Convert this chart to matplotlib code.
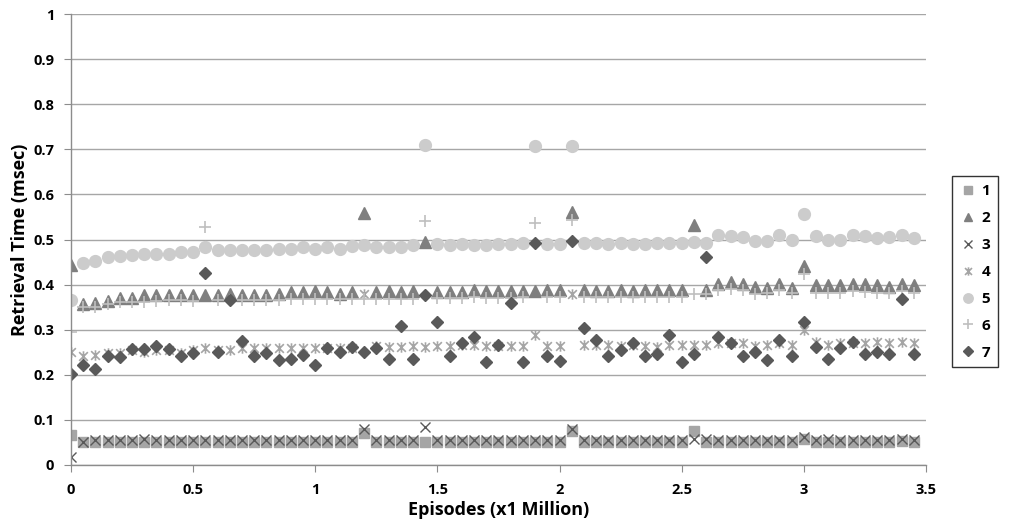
import matplotlib
matplotlib.use("Agg")
import matplotlib.pyplot as plt
from matplotlib.path import Path

plt.rcParams['font.family'] = ['Open Sans', 'DejaVu Sans']

# ── data ────────────────────────────────────────────────────────────────
EPISODES = [round(0.05 * i, 2) for i in range(70)]

S1 = [0.067, 0.050, 0.050, 0.052, 0.050, 0.050, 0.050, 0.050, 0.050, 0.050,
      0.050, 0.050, 0.050, 0.050, 0.050, 0.050, 0.050, 0.050, 0.050, 0.050,
      0.050, 0.050, 0.050, 0.050, 0.072, 0.050, 0.050, 0.050, 0.050, 0.050,
      0.052, 0.052, 0.052, 0.050, 0.050, 0.052, 0.050, 0.052, 0.052, 0.052,
      0.052, 0.075, 0.052, 0.052, 0.052, 0.050, 0.050, 0.052, 0.052, 0.050,
      0.052, 0.075, 0.052, 0.052, 0.052, 0.052, 0.052, 0.052, 0.052, 0.052,
      0.058, 0.052, 0.052, 0.052, 0.052, 0.052, 0.052, 0.052, 0.054, 0.052]

S2 = [0.443, 0.357, 0.360, 0.364, 0.371, 0.371, 0.377, 0.378, 0.378, 0.378,
      0.378, 0.378, 0.378, 0.380, 0.378, 0.378, 0.378, 0.380, 0.384, 0.384,
      0.385, 0.384, 0.380, 0.384, 0.558, 0.384, 0.385, 0.384, 0.385, 0.495,
      0.384, 0.384, 0.384, 0.388, 0.385, 0.385, 0.385, 0.385, 0.385, 0.389,
      0.389, 0.560, 0.388, 0.385, 0.385, 0.388, 0.385, 0.389, 0.389, 0.388,
      0.389, 0.532, 0.389, 0.402, 0.406, 0.402, 0.395, 0.392, 0.402, 0.392,
      0.441, 0.400, 0.399, 0.399, 0.402, 0.402, 0.400, 0.395, 0.402, 0.400]

S3 = [0.018, 0.052, 0.055, 0.055, 0.055, 0.055, 0.057, 0.055, 0.055, 0.055,
      0.055, 0.055, 0.055, 0.055, 0.055, 0.055, 0.055, 0.055, 0.055, 0.055,
      0.055, 0.055, 0.055, 0.055, 0.080, 0.055, 0.055, 0.055, 0.055, 0.084,
      0.055, 0.055, 0.055, 0.055, 0.055, 0.055, 0.055, 0.055, 0.055, 0.055,
      0.055, 0.080, 0.055, 0.055, 0.055, 0.055, 0.055, 0.055, 0.055, 0.055,
      0.055, 0.057, 0.057, 0.055, 0.055, 0.055, 0.055, 0.055, 0.055, 0.055,
      0.062, 0.055, 0.057, 0.055, 0.055, 0.055, 0.055, 0.055, 0.058, 0.055]

S4 = [0.251, 0.242, 0.245, 0.249, 0.249, 0.255, 0.251, 0.255, 0.255, 0.249,
      0.255, 0.259, 0.255, 0.255, 0.259, 0.259, 0.259, 0.259, 0.259, 0.259,
      0.259, 0.259, 0.259, 0.259, 0.379, 0.264, 0.262, 0.262, 0.264, 0.262,
      0.264, 0.264, 0.266, 0.266, 0.264, 0.264, 0.264, 0.264, 0.288, 0.264,
      0.264, 0.379, 0.266, 0.266, 0.266, 0.264, 0.266, 0.264, 0.262, 0.266,
      0.266, 0.266, 0.266, 0.270, 0.271, 0.270, 0.264, 0.266, 0.270, 0.266,
      0.299, 0.273, 0.266, 0.271, 0.271, 0.271, 0.273, 0.271, 0.273, 0.271]

S5 = [0.366, 0.449, 0.452, 0.462, 0.463, 0.466, 0.467, 0.467, 0.467, 0.472,
      0.473, 0.484, 0.477, 0.477, 0.477, 0.477, 0.477, 0.480, 0.480, 0.484,
      0.480, 0.484, 0.480, 0.485, 0.488, 0.484, 0.484, 0.484, 0.488, 0.709,
      0.489, 0.488, 0.489, 0.488, 0.488, 0.489, 0.489, 0.493, 0.707, 0.489,
      0.489, 0.707, 0.493, 0.493, 0.491, 0.493, 0.491, 0.491, 0.493, 0.493,
      0.493, 0.495, 0.493, 0.510, 0.508, 0.506, 0.497, 0.497, 0.510, 0.500,
      0.556, 0.508, 0.500, 0.500, 0.510, 0.508, 0.504, 0.506, 0.510, 0.504]

S6 = [0.295, 0.351, 0.351, 0.358, 0.362, 0.362, 0.361, 0.363, 0.365, 0.365,
      0.363, 0.528, 0.366, 0.365, 0.365, 0.366, 0.366, 0.366, 0.368, 0.368,
      0.368, 0.368, 0.368, 0.369, 0.369, 0.369, 0.369, 0.369, 0.369, 0.541,
      0.370, 0.370, 0.370, 0.372, 0.370, 0.370, 0.370, 0.372, 0.537, 0.372,
      0.372, 0.543, 0.372, 0.372, 0.372, 0.372, 0.372, 0.373, 0.373, 0.373,
      0.373, 0.379, 0.380, 0.388, 0.390, 0.388, 0.380, 0.382, 0.388, 0.382,
      0.424, 0.382, 0.382, 0.382, 0.386, 0.384, 0.382, 0.382, 0.386, 0.382]

S7 = [0.202, 0.222, 0.212, 0.242, 0.239, 0.257, 0.257, 0.264, 0.257, 0.242,
      0.249, 0.425, 0.251, 0.366, 0.276, 0.242, 0.249, 0.233, 0.234, 0.244,
      0.222, 0.259, 0.251, 0.261, 0.251, 0.259, 0.234, 0.308, 0.234, 0.378,
      0.318, 0.242, 0.271, 0.283, 0.229, 0.266, 0.360, 0.229, 0.493, 0.242,
      0.231, 0.497, 0.303, 0.277, 0.242, 0.254, 0.271, 0.242, 0.246, 0.288,
      0.229, 0.246, 0.462, 0.283, 0.271, 0.242, 0.251, 0.233, 0.277, 0.242,
      0.318, 0.261, 0.234, 0.259, 0.273, 0.246, 0.251, 0.246, 0.367, 0.246]

SERIES = [S1, S2, S3, S4, S5, S6, S7]
LABELS = ["1", "2", "3", "4", "5", "6", "7"]

# Excel-style "star": an X with a vertical bar through it
STAR = Path([(-1, -1), (1, 1), (-1, 1), (1, -1), (0, -1.2), (0, 1.2)],
            [Path.MOVETO, Path.LINETO, Path.MOVETO, Path.LINETO,
             Path.MOVETO, Path.LINETO])

STYLES = [
    dict(marker='s', ms=7.0, mfc='#a5a5a5', mec='#a5a5a5'),
    dict(marker='^', ms=8.0, mfc='#7f7f7f', mec='#7f7f7f'),
    dict(marker='x', ms=7.0, mfc='none', mec='#595959', mew=1.0),
    dict(marker=STAR, ms=7.5, mfc='none', mec='#a5a5a5', mew=1.2),
    dict(marker='o', ms=8.5, mfc='#cccccc', mec='#cccccc'),
    dict(marker='+', ms=8.5, mfc='none', mec='#bfbfbf', mew=1.2),
    dict(marker='D', ms=6.0, mfc='#595959', mec='#595959'),
]

fig = plt.figure(figsize=(10.17, 5.31), dpi=100)
ax = fig.add_axes([0.0698, 0.1243, 0.8407, 0.8493])

for vals, label, st in zip(SERIES, LABELS, STYLES):
    ax.plot(EPISODES, vals, linestyle='none', label=label, **st)

ax.set_xlim(0, 3.5)
ax.set_ylim(0, 1)
ax.set_xticks([0, 0.5, 1, 1.5, 2, 2.5, 3, 3.5])
ax.set_xticklabels(["0", "0.5", "1", "1.5", "2", "2.5", "3", "3.5"])
ax.set_yticks([i / 10 for i in range(11)])
ax.set_yticklabels(["0", "0.1", "0.2", "0.3", "0.4", "0.5", "0.6", "0.7",
                    "0.8", "0.9", "1"])

ax.grid(axis='y', color='#a6a6a6', linewidth=1.0)
ax.set_axisbelow(True)
for side in ('top', 'right'):
    ax.spines[side].set_visible(False)
for side in ('left', 'bottom'):
    ax.spines[side].set_color('#8c8c8c')
    ax.spines[side].set_linewidth(1.0)
ax.tick_params(axis='both', direction='out', length=5, color='#8c8c8c',
               labelsize=10.5)
ax.tick_params(axis='x', pad=8)
ax.tick_params(axis='y', pad=7)
for lbl in ax.get_xticklabels() + ax.get_yticklabels():
    lbl.set_fontweight('bold')

ax.set_xlabel("Episodes (x1 Million)", fontsize=13, fontweight='bold', labelpad=3)
ax.set_ylabel("Retrieval Time (msec)", fontsize=13, fontweight='bold', labelpad=3)

leg = fig.legend(loc='center left', bbox_to_anchor=(0.929, 0.488),
                 frameon=True, fancybox=False, edgecolor='black',
                 prop={'weight': 'bold', 'size': 11}, labelspacing=0.85,
                 handlelength=1.0, handletextpad=0.4, borderpad=0.5,
                 markerscale=0.8)
leg.get_frame().set_linewidth(1.0)

fig.savefig("out.png", dpi=100, facecolor='white')
